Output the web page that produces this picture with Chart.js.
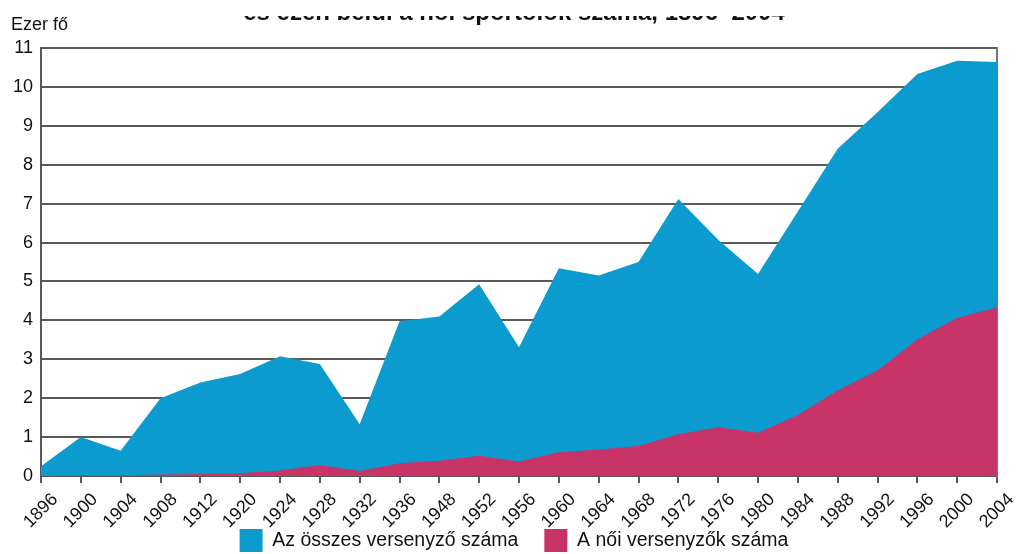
<!DOCTYPE html>
<html>
<head>
<meta charset="utf-8">
<script src="https://cdn.jsdelivr.net/npm/chart.js@4/dist/chart.umd.min.js"></script>
<style>
    body { margin: 0; background: #fff; }
</style>
</head>
<body>
<canvas id="myChart" width="1016" height="554"></canvas>
<script>
// Olimpiai résztvevők (ezer fő)
const years = ["1896", "1900", "1904", "1908", "1912", "1920", "1924", "1928", "1932", "1936", "1948", "1952", "1956",
    "1960", "1964", "1968", "1972", "1976", "1980", "1984", "1988", "1992", "1996", "2000", "2004"];

const osszes = [0.25, 1.0, 0.65, 2.0, 2.4, 2.62, 3.08, 2.88, 1.33, 3.98, 4.1, 4.93, 3.31,
    5.34, 5.15, 5.5, 7.12, 6.07, 5.19, 6.8, 8.41, 9.35, 10.33, 10.67, 10.64];

const noi = [0.0, 0.02, 0.01, 0.04, 0.05, 0.07, 0.14, 0.28, 0.13, 0.33, 0.39, 0.52, 0.37,
    0.61, 0.68, 0.77, 1.07, 1.25, 1.11, 1.57, 2.2, 2.71, 3.51, 4.07, 4.33];

const yTicks = [0, 1, 2, 3, 4, 5, 6, 7, 8, 9, 10, 11];

const titleText = "és ezen belül a női sportolók száma, 1896–2004";
const unitText = "Ezer fő";

const gridColor = "#595959";

// a felső szöveg a képen le van vágva
const topText = {
    id: "topText",
    afterDraw(chart) {
        const ctx = chart.ctx;
        ctx.save();
        ctx.beginPath();
        ctx.rect(0, 16, chart.width, chart.height);
        ctx.clip();
        ctx.fillStyle = "#111";
        ctx.textBaseline = "alphabetic";
        ctx.font = "bold 24px 'Liberation Sans', Arial, sans-serif";
        ctx.textAlign = "center";
        ctx.fillText(titleText, 514, 20);
        ctx.font = "18px 'Liberation Sans', Arial, sans-serif";
        ctx.textAlign = "left";
        ctx.fillText(unitText, 11, 30);
        ctx.restore();
    }
};

const config = {
    type: "line",
    data: {
        labels: years,
        datasets: [{
            label: "Az összes versenyző száma",
            data: osszes,
            backgroundColor: "rgb(11, 155, 206)",
            borderColor: "rgb(11, 155, 206)",
            borderWidth: 0,
            fill: "origin",
            pointRadius: 0,
            tension: 0,
            order: 2
        }, {
            label: "A női versenyzők száma",
            data: noi,
            backgroundColor: "rgb(201, 52, 104)",
            borderColor: "rgb(201, 52, 104)",
            borderWidth: 0,
            fill: "origin",
            pointRadius: 0,
            tension: 0,
            order: 1
        }]
    },
    options: {
        responsive: false,
        animation: false,
        layout: {
            padding: { top: 48, right: 0, left: 12, bottom: -8 }
        },
        plugins: {
            tooltip: { enabled: false },
            title: { display: false },
            legend: {
                position: "bottom",
                labels: {
                    boxWidth: 23,
                    boxHeight: 23,
                    padding: 26,
                    color: "#111",
                    font: { family: "'Liberation Sans', Arial, sans-serif", size: 19.5 },
                    sort: (a, b) => a.datasetIndex - b.datasetIndex
                }
            }
        },
        scales: {
            x: {
                grid: {
                    drawOnChartArea: false,
                    drawTicks: true,
                    tickLength: 7,
                    color: gridColor,
                    lineWidth: 2
                },
                border: { display: true, color: gridColor, width: 2 },
                ticks: {
                    autoSkip: false,
                    minRotation: 45,
                    maxRotation: 45,
                    labelOffset: 14,
                    padding: 6,
                    color: "#111",
                    font: { family: "'Liberation Sans', Arial, sans-serif", size: 18 }
                },
                afterFit: function(scale) {
                    scale.height = 27;
                    scale.paddingLeft = 0;
                    scale.paddingRight = 0;
                    // a feliratok lelógnak a tengely dobozából, ne vágja le
                    scale._computeLabelArea = function() { return null; };
                }
            },
            y: {
                min: 0,
                max: 11,
                afterBuildTicks: function(scale) {
                    scale.ticks = yTicks.map(v => ({ value: v }));
                },
                grid: {
                    drawTicks: false,
                    color: gridColor,
                    lineWidth: 2
                },
                border: { display: true, color: gridColor, width: 2 },
                ticks: {
                    padding: 8,
                    color: "#111",
                    font: { family: "'Liberation Sans', Arial, sans-serif", size: 18 }
                },
                afterFit: function(scale) {
                    scale.width = 29;
                }
            },
            y2: {
                position: "right",
                min: 0,
                max: 11,
                grid: { display: false, drawTicks: false },
                border: { display: true, color: "#777", width: 2 },
                ticks: { display: false },
                afterFit: function(scale) {
                    scale.width = 19;
                }
            }
        }
    },
    plugins: [topText]
};

const myChart = new Chart(document.getElementById("myChart"), config);
</script>
</body>
</html>
